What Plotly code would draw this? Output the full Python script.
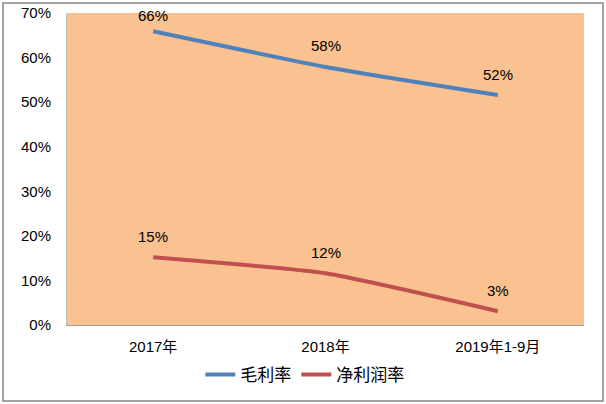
import plotly.graph_objects as go

categories = ["2017年", "2018年", "2019年1-9月"]
gross_margin = [0.659, 0.579, 0.516]
net_margin = [0.152, 0.116, 0.031]
series_names = ["毛利率", "净利润率"]
y_ticks = [0, 0.1, 0.2, 0.3, 0.4, 0.5, 0.6, 0.7]

FONT = "Liberation Sans, Noto Sans CJK SC, sans-serif"
W, H = 606, 404
L, R, T, B = 67, 22, 13, 79
pw, ph = W - L - R, H - T - B

fig = go.Figure()
fig.add_trace(go.Scatter(x=categories, y=gross_margin, name=series_names[0], mode="lines",
                         line=dict(color="#4F81BD", width=4, shape="spline", smoothing=0.5)))
fig.add_trace(go.Scatter(x=categories, y=net_margin, name=series_names[1], mode="lines",
                         line=dict(color="#C0504D", width=4, shape="spline", smoothing=0.5)))

annotations = []
for series in (gross_margin, net_margin):
    for c, v in zip(categories, series):
        annotations.append(dict(x=c, y=v, text=f"{round(v*100):.0f}%", showarrow=False,
                                yshift=16 if v > 0.65 else 21,
                                font=dict(size=15, color="#000000", family=FONT)))

# outer border
bx0 = (3 - L) / pw
bx1 = (603 - L) / pw
by1 = (H - B - 3) / ph
by0 = (H - B - 401) / ph
shapes = [dict(type="rect", xref="paper", yref="paper", x0=bx0, x1=bx1, y0=by0, y1=by1,
               line=dict(color="#868686", width=1.5), fillcolor="rgba(0,0,0,0)", layer="below")]

fig.update_layout(
    width=W, height=H, margin=dict(l=L, r=R, t=T, b=B, autoexpand=False),
    paper_bgcolor="white", plot_bgcolor="#FAC191",
    font=dict(family=FONT, size=15, color="#000000"),
    showlegend=True,
    legend=dict(orientation="h", x=0.46, xanchor="center", y=(H - B - 375) / ph, yanchor="middle",
                font=dict(size=17), itemwidth=30, bgcolor="rgba(0,0,0,0)"),
    annotations=annotations, shapes=shapes,
)
fig.update_xaxes(type="category", showgrid=False, zeroline=False, automargin=False,
                 showline=True, linecolor="#A0A0A0", linewidth=1, mirror=False,
                 ticks="outside", ticklen=8, tickcolor="rgba(0,0,0,0)",
                 tickfont=dict(size=15), range=[-0.5, 2.5])
fig.update_yaxes(range=[0, 0.7], tickvals=y_ticks, tickformat=".0%", showgrid=False, zeroline=False,
                 automargin=False,
                 showline=True, linecolor="#C0C0C0", linewidth=1,
                 ticks="outside", ticklen=12, tickcolor="rgba(0,0,0,0)",
                 tickfont=dict(size=15))

fig.write_html("out.html")
